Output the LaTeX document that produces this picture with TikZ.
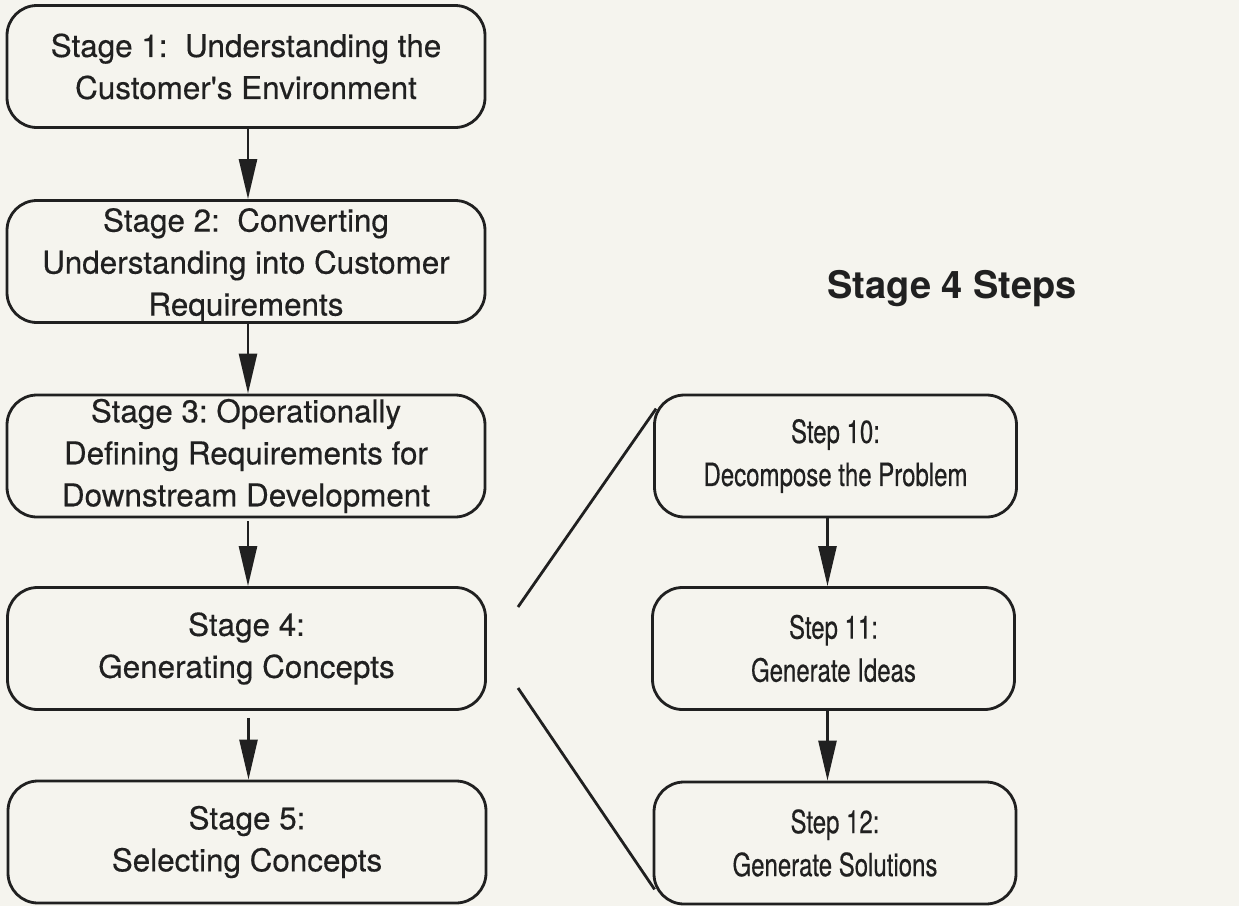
\documentclass[tikz,border=0pt]{standalone}
\usepackage{fontspec}
\setmainfont{TeX Gyre Heros}[FakeBold=0.4]
\newfontfamily\stepfont{TeX Gyre Heros}[FakeStretch=0.75,FakeBold=0.4]
\newfontfamily\titlefont{TeX Gyre Heros Bold}
\newcommand{\apos}{\XeTeXglyph\XeTeXglyphindex "quotesingle"\relax}
\usetikzlibrary{arrows.meta}
\definecolor{bg}{RGB}{245,244,238}
\definecolor{ink}{RGB}{32,32,32}
\frenchspacing
\begin{document}
\begin{tikzpicture}[x=0.5pt,y=-0.5pt,
  stagebox/.style={draw=ink, line width=1.4pt, rounded corners=15pt, minimum width=239pt, minimum height=61pt, inner sep=0pt, align=center, text=ink, font=\fontsize{15.7}{21}\selectfont},
  stepbox/.style={draw=ink, line width=1.4pt, rounded corners=15pt, minimum width=181pt, minimum height=61pt, inner sep=0pt, align=center, text=ink, font=\stepfont\fontsize{16}{21.5}\selectfont},
  arr/.style={draw=ink, line width=1.3pt, -{Triangle[length=20pt,width=9pt]}},
  link/.style={draw=ink, line width=1.4pt},
  titlestyle/.style={text=ink, font=\titlefont\fontsize{19}{22}\selectfont, anchor=base, inner sep=0pt}]
\fill[bg] (0,0) rectangle (1239,906);
\useasboundingbox (0,0) rectangle (1239,906);

\node[stagebox] (s1) at (246,66.5) {Stage 1:\ \ Understanding the\\Customer\apos s Environment};
\node[stagebox] (s2) at (246,261.5) {\rule{0pt}{15.5pt}Stage 2:\ \ Converting\\Understanding into Customer\\Requirements};
\node[stagebox] (s3) at (246,456) {Stage 3: Operationally\\Defining Requirements for\\Downstream Development};
\node[stagebox] (s4) at (246.5,648.5) {Stage 4:\\Generating Concepts};
\node[stagebox] (s5) at (247,842) {Stage 5:\\Selecting Concepts};

\node[titlestyle] (title) at (952,298) {Stage 4 Steps};

\node[stepbox] (t10) at (835.5,456) {Step 10:\\Decompose the Problem};
\node[stepbox] (t11) at (833.5,648.5) {Step 11:\\Generate Ideas};
\node[stepbox] (t12) at (835,843) {Step 12:\\Generate Solutions};

\draw[arr] ([xshift=1pt]s1.south) -- ([xshift=1pt]s1.south |- s2.north);
\draw[arr] ([xshift=1pt]s2.south) -- ([xshift=1pt]s2.south |- s3.north);
\draw[arr] ([xshift=1pt,yshift=-1.5pt]s3.south) -- ([xshift=1pt]s3.south |- s4.north);
\draw[arr] ([xshift=1pt,yshift=-3.5pt]s4.south) -- ([xshift=1pt]s4.south |- s5.north);
\draw[arr] ([xshift=-4pt]t10.south) -- ([xshift=-4pt]t10.south |- t11.north);
\draw[arr] ([xshift=-3pt]t11.south) -- ([xshift=-3pt]t11.south |- t12.north);

\coordinate (c1) at (518,607);
\coordinate (c2) at (518,688);
\draw[link] (c1) -- ([shift={(1.5pt,-7.5pt)}]t10.north west);
\draw[link] (c2) -- ([shift={(1pt,8pt)}]t12.south west);
\end{tikzpicture}
\end{document}
